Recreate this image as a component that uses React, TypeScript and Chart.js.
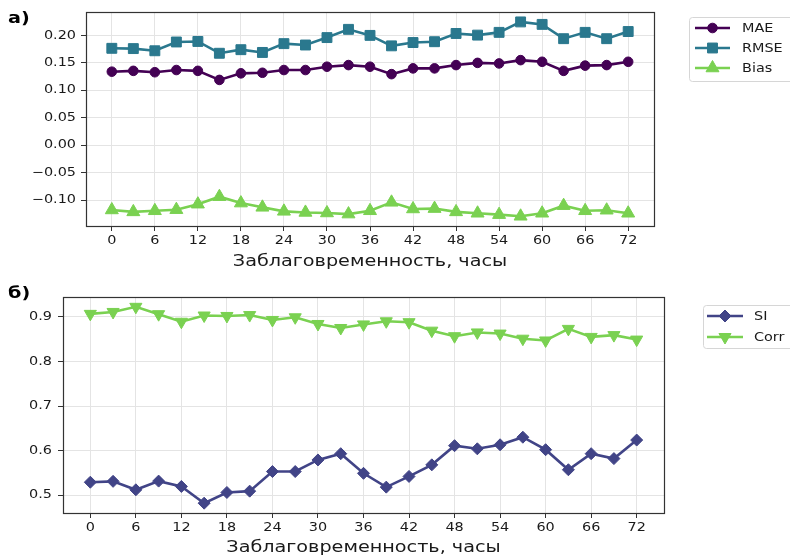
import React, { useEffect, useRef } from 'react';
import { Chart, registerables } from 'chart.js';
import { drawPoint } from 'chart.js/helpers';

Chart.register(...registerables);

// ---------------- data ----------------
const hours = [0, 3, 6, 9, 12, 15, 18, 21, 24, 27, 30, 33, 36, 39, 42, 45, 48, 51, 54, 57, 60, 63, 66, 69, 72];
const maeValues = [0.134, 0.1355, 0.133, 0.137, 0.1355, 0.119, 0.131, 0.132, 0.137, 0.137, 0.143, 0.146, 0.143, 0.1295, 0.14, 0.14, 0.146, 0.15, 0.149, 0.155, 0.152, 0.1355, 0.145, 0.146, 0.152];
const rmseValues = [0.1765, 0.176, 0.172, 0.188, 0.189, 0.1675, 0.174, 0.169, 0.185, 0.1825, 0.196, 0.211, 0.2, 0.181, 0.187, 0.1885, 0.2035, 0.2005, 0.2055, 0.2245, 0.22, 0.194, 0.2055, 0.194, 0.207];
const biasValues = [-0.1175, -0.121, -0.119, -0.117, -0.107, -0.0934, -0.105, -0.1127, -0.12, -0.122, -0.123, -0.125, -0.119, -0.1036, -0.1157, -0.115, -0.121, -0.1235, -0.126, -0.129, -0.1235, -0.1097, -0.119, -0.118, -0.1235];
const siValues = [0.529, 0.531, 0.512, 0.5315, 0.5195, 0.482, 0.506, 0.509, 0.553, 0.553, 0.579, 0.593, 0.549, 0.518, 0.542, 0.568, 0.611, 0.604, 0.613, 0.63, 0.602, 0.557, 0.593, 0.582, 0.6236];
const corrValues = [0.9067, 0.911, 0.9225, 0.906, 0.889, 0.903, 0.902, 0.904, 0.893, 0.899, 0.884, 0.875, 0.883, 0.89, 0.888, 0.869, 0.8566, 0.865, 0.8625, 0.851, 0.847, 0.873, 0.855, 0.859, 0.849];

const xTitle = 'Заблаговременность, часы';
const xTickStep = 6;
const topYStep = 0.05;
const bottomYStep = 0.1;

// ---------------- helpers ----------------
const FONT = '"DejaVu Sans", sans-serif';
const W = 790;
const H = 580;
const TEXT_STRETCH = 1.2;

function range(arrs: number[][], margin = 0.05) {
  const all = arrs.flat();
  const mn = Math.min(...all);
  const mx = Math.max(...all);
  const pad = (mx - mn) * margin;
  return { min: mn - pad, max: mx + pad };
}

function pts(vals: number[]) {
  return hours.map((h, i) => ({ x: h, y: vals[i] }));
}

// stretch text horizontally around its anchor point (the reference text is wide)
function stretchText(ctx: CanvasRenderingContext2D) {
  const orig = ctx.fillText.bind(ctx);
  (ctx as any).fillText = (text: string, x: number, y: number, maxWidth?: number) => {
    ctx.save();
    ctx.translate(x, y);
    ctx.scale(TEXT_STRETCH, 1);
    if (maxWidth === undefined || maxWidth === null) orig(text, 0, 0);
    else orig(text, 0, 0, maxWidth / TEXT_STRETCH);
    ctx.restore();
  };
}

type LegendCfg = { x: number; y: number; w: number; h: number; rows: number[]; x1: number; x2: number; textX: number };
type Cfg = {
  area: { l: number; t: number; r: number; b: number };
  titleY: number;
  yStep: number;
  yDecimals: number;
  yPad: number;
  datasets: any[];
  legend: LegendCfg;
  panel: { text: string; x: number; y: number };
};

function makeChart(canvas: HTMLCanvasElement, cfg: Cfg) {
  const xr = range([hours]);
  const yr = range(cfg.datasets.map((d) => d.data.map((p: any) => p.y)));
  const titleSize = 16;
  const titleBottom = cfg.titleY + (titleSize * 1.2) / 2;

  const framePlugin = {
    id: 'frame',
    afterDatasetsDraw(chart: any) {
      const { ctx, chartArea: a } = chart;
      ctx.save();
      ctx.strokeStyle = '#333333';
      ctx.lineWidth = 1.2;
      ctx.strokeRect(Math.round(a.left) + 0.5, Math.round(a.top) + 0.5, Math.round(a.right - a.left), Math.round(a.bottom - a.top));
      ctx.restore();
    },
  };

  const legendPlugin = {
    id: 'mplLegend',
    afterDraw(chart: any) {
      const L = cfg.legend;
      const ctx = chart.ctx;
      ctx.save();
      ctx.fillStyle = 'rgba(255,255,255,0.8)';
      ctx.strokeStyle = '#d6d6d6';
      ctx.lineWidth = 1;
      ctx.beginPath();
      (ctx as any).roundRect(L.x + 0.5, L.y + 0.5, L.w, L.h, 3);
      ctx.fill();
      ctx.stroke();
      chart.data.datasets.forEach((ds: any, i: number) => {
        const y = L.rows[i];
        ctx.strokeStyle = ds.borderColor;
        ctx.lineWidth = ds.borderWidth;
        ctx.beginPath();
        ctx.moveTo(L.x1, y);
        ctx.lineTo(L.x2, y);
        ctx.stroke();
        ctx.fillStyle = ds.pointBackgroundColor;
        ctx.strokeStyle = ds.pointBorderColor;
        ctx.lineWidth = 1;
        drawPoint(ctx, { pointStyle: ds.pointStyle, rotation: ds.pointRotation || 0, radius: ds.pointRadius, borderWidth: 1 } as any, (L.x1 + L.x2) / 2, y);
        ctx.fillStyle = '#1a1a1a';
        ctx.font = `12px ${FONT}`;
        ctx.textBaseline = 'middle';
        ctx.textAlign = 'left';
        ctx.fillText(ds.label, L.textX, y + 1);
      });
      ctx.restore();
    },
  };

  const panelPlugin = {
    id: 'panelLabel',
    afterDraw(chart: any) {
      const ctx = chart.ctx;
      ctx.save();
      ctx.fillStyle = '#000000';
      ctx.font = `bold 16px ${FONT}`;
      ctx.textBaseline = 'alphabetic';
      ctx.textAlign = 'left';
      ctx.fillText(cfg.panel.text, cfg.panel.x, cfg.panel.y);
      ctx.restore();
    },
  };

  const tickFont = { family: FONT, size: 12 };

  const ctx = canvas.getContext('2d') as CanvasRenderingContext2D;
  stretchText(ctx);

  return new Chart(ctx, {
    type: 'line',
    data: { datasets: cfg.datasets },
    plugins: [framePlugin, legendPlugin, panelPlugin],
    options: {
      animation: false,
      responsive: false,
      devicePixelRatio: 1,
      layout: { padding: { left: 0, top: cfg.area.t, right: W - cfg.area.r, bottom: H - titleBottom } },
      plugins: { legend: { display: false }, tooltip: { enabled: false }, title: { display: false } },
      scales: {
        x: {
          type: 'linear',
          min: xr.min,
          max: xr.max,
          afterFit: (s: any) => {
            s.height = titleBottom - cfg.area.b;
          },
          ticks: {
            stepSize: xTickStep,
            includeBounds: false,
            color: '#1a1a1a',
            font: tickFont,
            padding: 3,
            maxRotation: 0,
            callback: (v: any) => String(v),
          },
          grid: { color: '#e4e4e4', lineWidth: 1, tickColor: '#333333', tickLength: 5, tickWidth: 1, drawTicks: true },
          border: { display: true, color: '#333333', width: 1 },
          title: { display: true, text: xTitle, color: '#1a1a1a', font: { family: FONT, size: titleSize, lineHeight: 1.2 }, padding: { top: 0, bottom: 0 } },
        },
        y: {
          type: 'linear',
          min: yr.min,
          max: yr.max,
          afterFit: (s: any) => {
            s.width = cfg.area.l;
          },
          ticks: {
            stepSize: cfg.yStep,
            includeBounds: false,
            color: '#1a1a1a',
            font: tickFont,
            padding: cfg.yPad,
            callback: (v: any) => Number(v).toFixed(cfg.yDecimals).replace('-', '\u2212'),
          },
          grid: { color: '#e4e4e4', lineWidth: 1, tickColor: '#333333', tickLength: 5, tickWidth: 1, drawTicks: true },
          border: { display: true, color: '#333333', width: 1 },
        },
      },
    } as any,
  });
}

function ds(label: string, vals: number[], color: string, style: string, radius: number, rotation = 0) {
  return {
    label,
    data: pts(vals),
    borderColor: color,
    backgroundColor: color,
    pointBackgroundColor: color,
    pointBorderColor: color,
    borderWidth: 2.6,
    pointStyle: style,
    pointRadius: radius,
    pointRotation: rotation,
    pointBorderWidth: 1,
    tension: 0,
    fill: false,
  };
}

const topCfg = (): Cfg => ({
  area: { l: 86, t: 11, r: 654, b: 226 },
  titleY: 262,
  yStep: topYStep,
  yDecimals: 2,
  yPad: 5,
  datasets: [
    ds('MAE', maeValues, '#440154', 'circle', 4.8),
    ds('RMSE', rmseValues, '#2a788e', 'rect', 7),
    ds('Bias', biasValues, '#7ad151', 'triangle', 7.5),
  ],
  legend: { x: 689, y: 17, w: 110, h: 64, rows: [28, 48, 68], x1: 695, x2: 730, textX: 742 },
  panel: { text: 'а)', x: 8, y: 23 },
});

const bottomCfg = (): Cfg => ({
  area: { l: 63, t: 297, r: 664, b: 513 },
  titleY: 548,
  yStep: bottomYStep,
  yDecimals: 1,
  yPad: 6,
  datasets: [
    ds('SI', siValues, '#414487', 'rectRot', 6),
    ds('Corr', corrValues, '#7ad151', 'triangle', 7, 180),
  ],
  legend: { x: 703, y: 305, w: 100, h: 43, rows: [316, 337], x1: 707, x2: 743, textX: 754 },
  panel: { text: 'б)', x: 8, y: 298 },
});

function ChartCanvas({ build }: { build: () => Cfg }) {
  const ref = useRef<HTMLCanvasElement | null>(null);
  useEffect(() => {
    if (!ref.current) return;
    const chart = makeChart(ref.current, build());
    return () => chart.destroy();
  }, []);
  return <canvas ref={ref} width={W} height={H} style={{ position: 'absolute', left: 0, top: 0 }} />;
}

export default function App() {
  Chart.defaults.font.family = FONT;
  return (
    <div style={{ position: 'fixed', left: 0, top: 0, width: 790, height: 556, overflow: 'hidden', background: '#ffffff' }}>
      <ChartCanvas build={topCfg} />
      <ChartCanvas build={bottomCfg} />
    </div>
  );
}
